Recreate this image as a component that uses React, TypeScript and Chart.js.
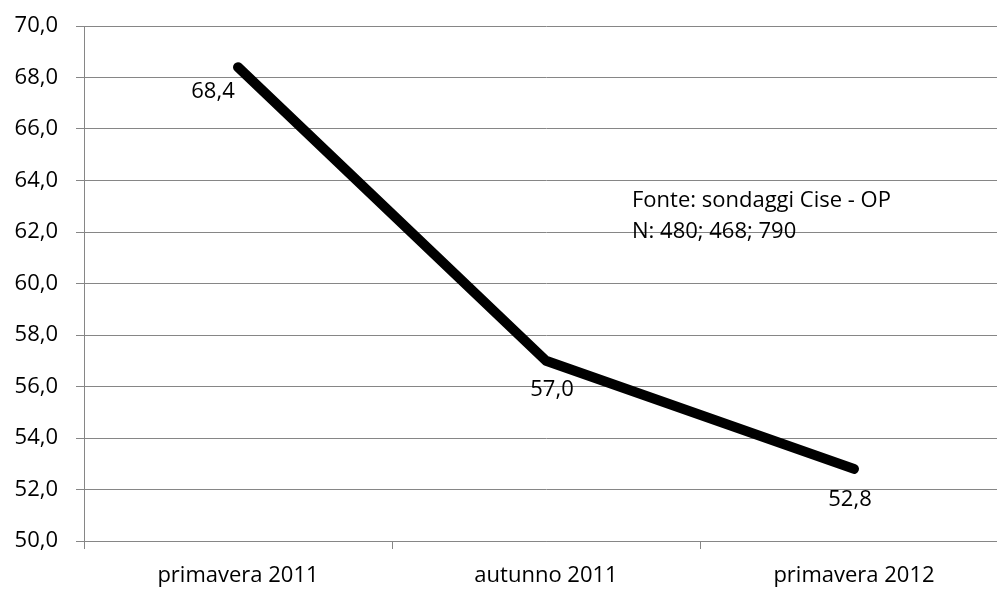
import React, { useEffect, useRef } from "react";
import { Chart, registerables } from "chart.js";

Chart.register(...registerables);

const categories = ["primavera 2011", "autunno 2011", "primavera 2012"];
const values = [68.4, 57.0, 52.8];
const noteLines = ["Fonte: sondaggi Cise - OP", "N: 480; 468; 790"];

const FONT = "'Open Sans', sans-serif";
const FONT_SIZE = 22;
const GRID = "#868686";

const fmt = (v: number) => v.toFixed(1).replace(".", ",");

const labelPlugin = {
  id: "pointLabels",
  afterDatasetsDraw(chart: any) {
    const { ctx } = chart;
    const meta = chart.getDatasetMeta(0);
    const offsets = [
      [-25, 25],
      [6, 29],
      [-4, 31],
    ];
    ctx.save();
    ctx.font = `${FONT_SIZE}px ${FONT}`;
    ctx.fillStyle = "#000";
    ctx.textAlign = "center";
    ctx.textBaseline = "middle";
    meta.data.forEach((pt: any, i: number) => {
      const [dx, dy] = offsets[i];
      ctx.fillText(fmt(values[i]), pt.x + dx, pt.y + dy);
    });
    ctx.textAlign = "left";
    noteLines.forEach((t, i) => {
      ctx.fillText(t, 632, 201 + i * 31);
    });
    ctx.restore();
  },
};

export default function App() {
  const ref = useRef<HTMLCanvasElement>(null);
  useEffect(() => {
    if (!ref.current) return;
    const chart = new Chart(ref.current, {
      type: "line",
      data: {
        labels: categories,
        datasets: [
          {
            data: values,
            borderColor: "#000",
            borderWidth: 10,
            borderCapStyle: "round",
            borderJoinStyle: "round",
            pointRadius: 0,
            pointHoverRadius: 0,
            tension: 0,
            fill: false,
          },
        ],
      },
      options: {
        responsive: false,
        animation: false,
        events: [],
        layout: { padding: { top: 26, left: 0, right: 4, bottom: 0 } },
        plugins: { legend: { display: false }, tooltip: { enabled: false } },
        scales: {
          x: {
            offset: true,
            grid: {
              offset: true,
              drawOnChartArea: false,
              drawTicks: true,
              tickLength: 8,
              color: GRID,
            },
            border: { display: true, color: GRID, width: 1 },
            ticks: {
              color: "#000",
              font: { family: FONT, size: FONT_SIZE },
              padding: 14,
              maxRotation: 0,
            },
            afterFit(scale: any) {
              scale.height = 589 - 541;
              scale.paddingLeft = 0;
              scale.paddingRight = 0;
            },
          },
          y: {
            min: 50,
            max: 70,
            grid: { color: GRID, tickLength: 8, lineWidth: 1 },
            border: { display: true, color: GRID, width: 1 },
            ticks: {
              stepSize: 2,
              color: "#000",
              font: { family: FONT, size: FONT_SIZE },
              padding: 18,
              callback: (v: any) => fmt(Number(v)),
            },
            afterFit(scale: any) {
              scale.width = 84;
              scale.paddingTop = 0;
              scale.paddingBottom = 0;
            },
          },
        },
      },
      plugins: [labelPlugin],
    });
    return () => chart.destroy();
  }, []);
  return (
    <div
      style={{
        position: "fixed",
        left: 0,
        top: 0,
        width: 997,
        height: 589,
        overflow: "hidden",
        background: "#fff",
      }}
    >
      <canvas ref={ref} width={1012} height={589} style={{ display: "block" }} />
    </div>
  );
}
